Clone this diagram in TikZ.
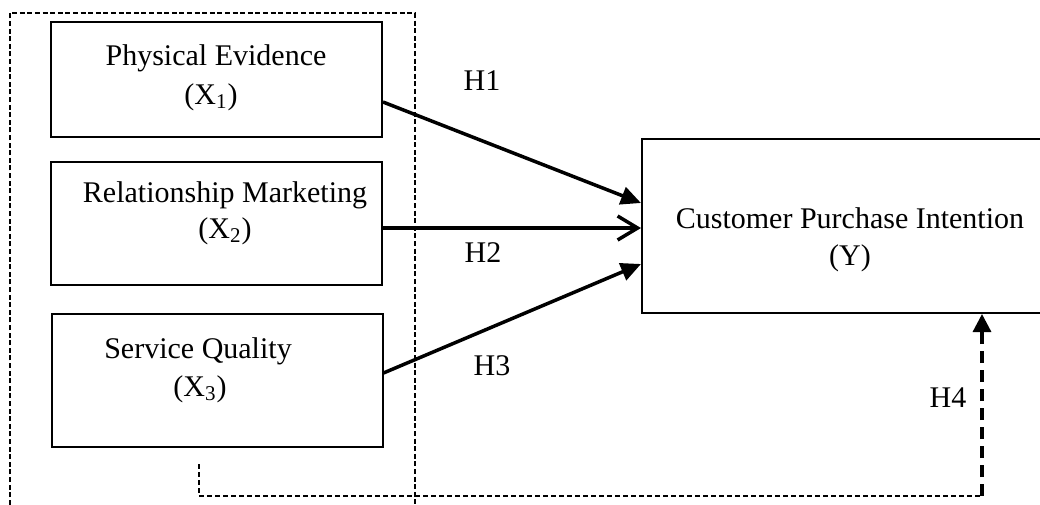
\documentclass[tikz,border=0pt]{standalone}
\usepackage{fontspec}
\setmainfont{Liberation Serif}
\usetikzlibrary{arrows.meta,calc}

\begin{document}
\begin{tikzpicture}[x=0.5pt, y=-0.5pt]
		\tikzset{bx/.style={draw=black, line width=1pt, minimum width=165.5pt, inner sep=0pt}};
		\tikzset{txt/.style={anchor=base, inner sep=0pt, font=\fontsize{15}{18}\selectfont}};
		\tikzset{hyp/.style={line width=1.75pt, -{Triangle[length=10pt, width=9pt]}}};

		\clip (0,0) rectangle (1040,504);

		% dashed frame round the three X boxes
		\draw[line width=0.9pt, dash pattern=on 2.5pt off 1.3pt] (10,520) -- (10,13) -- (415,13) -- (415,520);

		\node[bx, minimum height=57.5pt] (x1) at (216.5,79.5) {};
		\node[bx, minimum height=61.5pt] (x2) at (216.5,223.5) {};
		\node[bx, minimum height=66.5pt] (x3) at (217,380.5) {};
		\node[bx, minimum width=208pt, minimum height=87pt] (y) at (850,226) {};

		\node[txt] (x1a) at (216,65) {Physical Evidence};
		\node[txt] (x1b) at (211,104) {(X\textsubscript{1})};
		\node[txt] (x2a) at (225,202) {Relationship Marketing};
		\node[txt] (x2b) at (225,238) {(X\textsubscript{2})};
		\node[txt] (x3a) at (198,358) {Service Quality};
		\node[txt] (x3b) at (200,396) {(X\textsubscript{3})};
		\node[txt] (ya) at (850,228) {Customer Purchase Intention};
		\node[txt] (yb) at (850,265) {(Y)};

		\node[txt] (h1) at (482,90) {H1};
		\node[txt] (h2) at (483,262) {H2};
		\node[txt] (h3) at (492,375) {H3};
		\node[txt] (h4) at (948,407) {H4};

		\coordinate (h1s) at ($(x1.east)+(0,22.5)$);
		\coordinate (h1e) at ($(y.west)+(0,-23)$);
		\coordinate (h2s) at ($(x2.east)+(0,4.5)$);
		\coordinate (h2e) at ($(y.west)+(0,2)$);
		\coordinate (h3s) at ($(x3.east)+(0,-7.5)$);
		\coordinate (h3e) at ($(y.west)+(0,38)$);
		\coordinate (h4s) at (199,464);
		\coordinate (h4c) at (982,496);
		\coordinate (h4e) at (h4c |- y.south);

		\draw[hyp] (h1s) to (h1e);
		\draw[line width=1.75pt, -{Straight Barb[length=10pt, width=12pt]}] (h2s) to (h2e);
		\draw[hyp] (h3s) to (h3e);

		\draw[line width=1pt, dash pattern=on 2.5pt off 1.5pt] (h4s) -- (h4s |- h4c) -- (h4c);
		\draw[line width=1.6pt, dash pattern=on 6pt off 3.5pt, -{Triangle[length=9pt, width=9pt]}] (h4c) -- (h4e);

	\end{tikzpicture}
\end{document}
